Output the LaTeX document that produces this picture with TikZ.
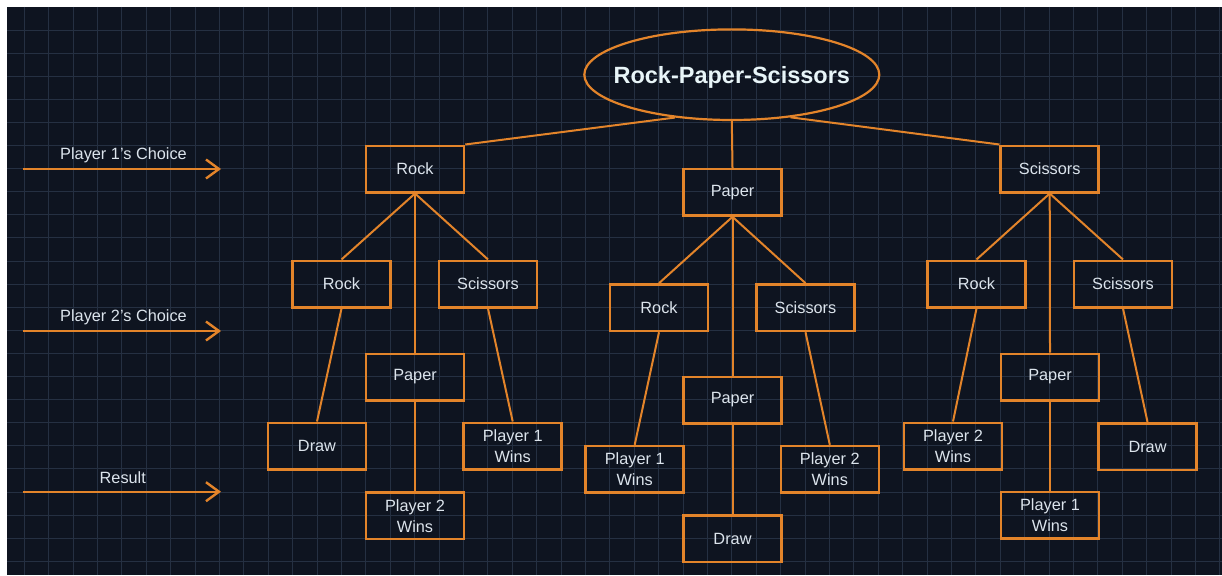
\documentclass[tikz,border=0pt]{standalone}
\usepackage{fontspec}
\setmainfont{Liberation Sans}
\usetikzlibrary{arrows.meta,shapes.geometric}
\definecolor{bgdark}{HTML}{0E1420}
\definecolor{gridc}{HTML}{253042}
\definecolor{amber}{HTML}{E3842A}
\definecolor{labelc}{HTML}{DCE4EC}
\definecolor{titlec}{HTML}{E8F5F8}

\begin{document}
\begin{tikzpicture}[x=1pt,y=-1pt,
  box/.style={draw=amber, line width=2.5pt, minimum width=98pt, minimum height=46.5pt,
    inner sep=0pt, align=center, text=labelc, font=\fontsize{16.3}{21}\selectfont},
  link/.style={draw=amber, line width=2pt},
  guide/.style={draw=amber, line width=2.4pt, -{Straight Barb[length=13pt,width=19pt]}},
  guidelabel/.style={text=labelc, anchor=base, inner sep=0pt, font=\fontsize{16.3}{20}\selectfont},
]
\useasboundingbox (0,0) rectangle (1222,575);
% page background and grid
\fill[white] (0,0) rectangle (1222,575);
\fill[bgdark] (7,7) rectangle (1222,575);
\foreach \i in {0,...,49}
  \draw[gridc, line width=0.9pt] ({24.3+24.4*\i},7) -- ({24.3+24.4*\i},575);
\foreach \j in {0,...,23}
  \draw[gridc, line width=0.9pt] (7,{30+23.1*\j}) -- (1222,{30+23.1*\j});

% title ellipse and its text
\node[ellipse, draw=amber, line width=2.2pt, minimum width=295pt, minimum height=90.6pt,
  inner sep=0pt] (title) at (731.8,74.7) {};
\node[text=titlec, inner sep=0pt, font=\bfseries\fontsize{23.5}{28}\selectfont]
  (titletext) at (731.8,77.8) {Rock-Paper-Scissors};

% left branch: player 1 plays Rock
\node[box] (L)   at (415,169)     {Rock};
\node[box] (LR)  at (341.5,284)   {Rock};
\node[box] (LP)  at (415,377)     {Paper};
\node[box] (LS)  at (488,284)     {Scissors};
\node[box] (LRr) at (317,446)     {Draw};
\node[box] (LPr) at (415,515.7)   {Player 2\\Wins};
\node[box] (LSr) at (512.7,446)   {Player 1\\Wins};

% middle branch: player 1 plays Paper
\node[box] (M)   at (732.5,192.3) {Paper};
\node[box] (MR)  at (659,307.7)   {Rock};
\node[box] (MP)  at (732.5,400)   {Paper};
\node[box] (MS)  at (805.5,307.7) {Scissors};
\node[box] (MRr) at (634.7,469.3) {Player 1\\Wins};
\node[box] (MPr) at (732.5,538.7) {Draw};
\node[box] (MSr) at (829.8,469.3) {Player 2\\Wins};

% right branch: player 1 plays Scissors
\node[box] (R)   at (1049.7,169)  {Scissors};
\node[box] (RR)  at (976.5,284)   {Rock};
\node[box] (RP)  at (1050,377)    {Paper};
\node[box] (RS)  at (1123,284)    {Scissors};
\node[box] (RRr) at (953,446)     {Player 2\\Wins};
\node[box] (RPr) at (1050,515.3)  {Player 1\\Wins};
\node[box] (RSr) at (1147.5,446.5){Draw};

% connectors
\draw[link] (title.217) -- (L.north east);
\draw[link] (title.south) -- (M.north);
\draw[link] (title.324) -- (R.north west);
\foreach \p in {L,M,R}{
  \foreach \c in {R,P,S}{
    \draw[link] (\p.south) -- (\p\c.north);
    \draw[link] (\p\c.south) -- (\p\c r.north);
  }
}

% row guides
\coordinate (g1a) at (23.3,169);   \coordinate (g1b) at (221,169);
\coordinate (g2a) at (23.3,331);   \coordinate (g2b) at (221,331);
\coordinate (g3a) at (23.3,491.7); \coordinate (g3b) at (221,491.7);
\draw[guide] (g1a) -- (g1b);
\draw[guide] (g2a) -- (g2b);
\draw[guide] (g3a) -- (g3b);
\node[guidelabel] (t1) at (123.5,159.3) {Player 1's Choice};
\node[guidelabel] (t2) at (123.5,321)   {Player 2's Choice};
\node[guidelabel] (t3) at (122.8,483.3) {Result};
\end{tikzpicture}
\end{document}
